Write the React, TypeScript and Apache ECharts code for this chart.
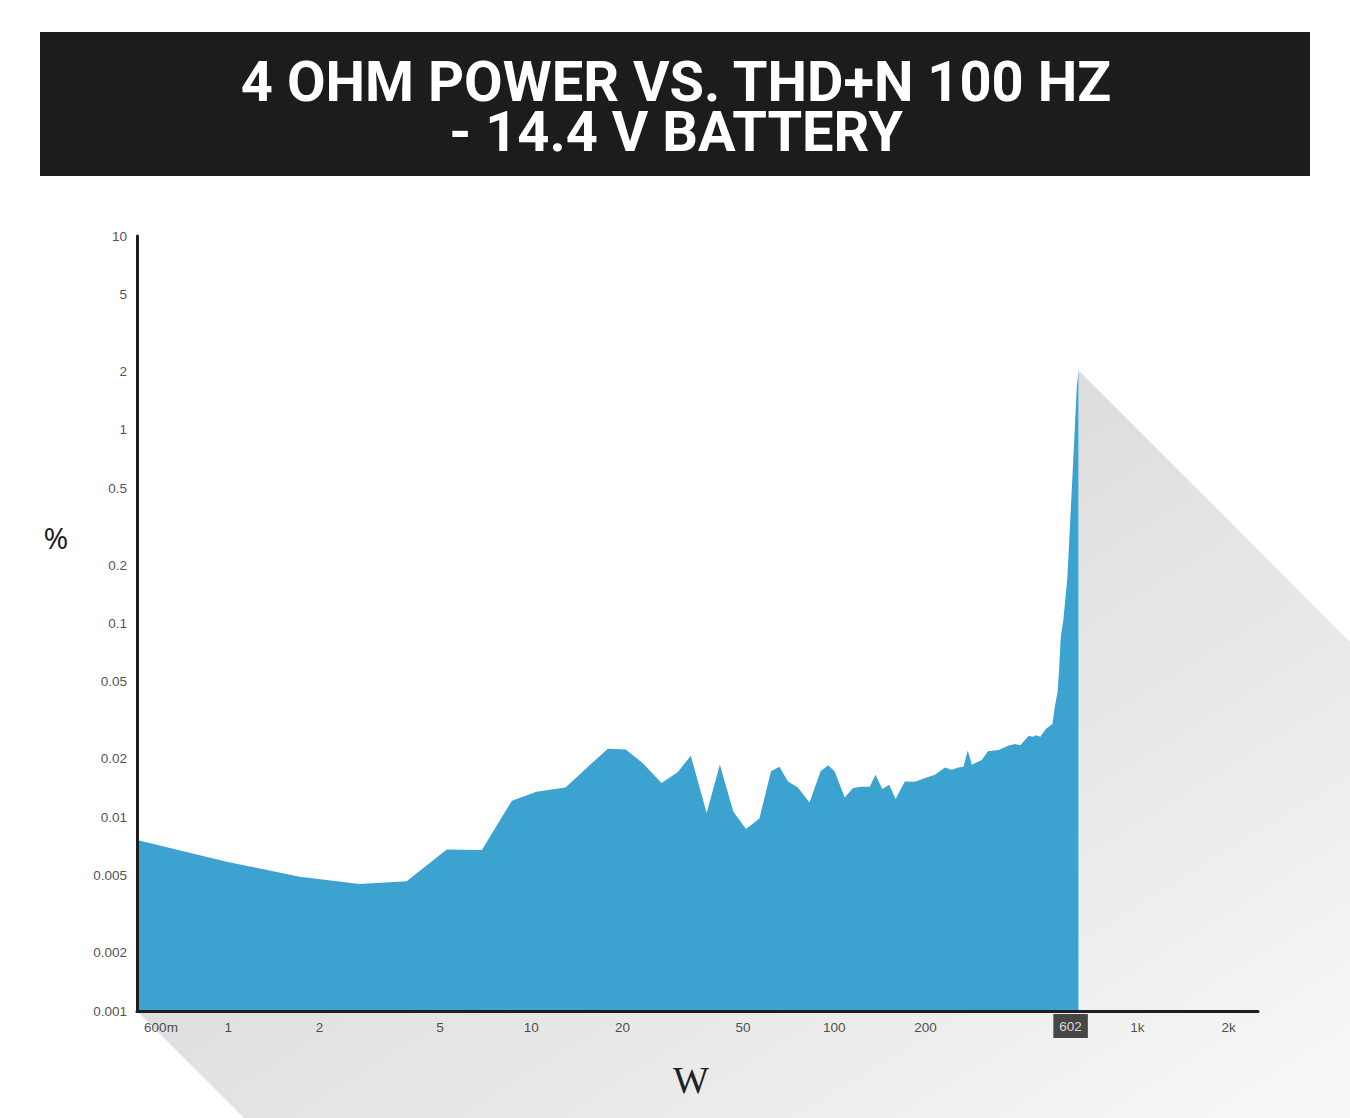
import React, { useEffect, useRef } from "react";
import * as echarts from "echarts";

const titleLines = ["4 OHM POWER VS. THD+N 100 HZ", "- 14.4 V BATTERY"];
const xAxisName = "W";
const yAxisName = "%";

const powerW = [
  0.5, 0.98, 1.72, 2.71, 3.88, 5.26, 6.87, 8.63, 10.4, 12.97, 15.29, 17.9, 20.5,
  23.3, 26.9, 30.4, 33.6, 37.9, 41.9, 46.4, 51.1, 56.6, 61.8, 65.9, 70.3, 75.8,
  82.8, 90.1, 95.3, 100.2, 108.2, 115.3, 122.8, 130.9, 136.7, 143.9, 151.7, 159.2,
  170.9, 184.5, 199.1, 214.8, 231.8, 244, 256.8, 266.8, 275.6, 284.2, 306.7, 321.2,
  348.4, 376, 395.4, 411, 437.8, 451.6, 463.2, 478.4, 498.4, 524.5, 533.4, 545,
  551.5, 558.5, 569.4, 587.6, 602.6, 618, 631, 639,
];
const thdPct = [
  0.00762, 0.00591, 0.00493, 0.00452, 0.00468, 0.00682, 0.00677, 0.01217, 0.01355,
  0.01426, 0.01808, 0.02259, 0.02234, 0.01906, 0.01502, 0.01705, 0.02079, 0.01051,
  0.01868, 0.01072, 0.00869, 0.00986, 0.01725, 0.01824, 0.01531, 0.01426, 0.01192,
  0.01725, 0.01854, 0.01725, 0.01265, 0.01416, 0.01438, 0.01438, 0.01659, 0.014,
  0.01472, 0.01242, 0.01531, 0.01525, 0.01595, 0.01659, 0.01808, 0.01759, 0.01808,
  0.01824, 0.02208, 0.01868, 0.01977, 0.02188, 0.02224, 0.02343, 0.02388, 0.0235,
  0.02637, 0.02606, 0.02649, 0.02606, 0.02857, 0.03033, 0.0369, 0.0442, 0.0571,
  0.0849, 0.1036, 0.1735, 0.3838, 0.848, 1.664, 2.03,
];

const yTickValues = [10, 5, 2, 1, 0.5, 0.2, 0.1, 0.05, 0.02, 0.01, 0.005, 0.002, 0.001];
const yTickLabels = ["10", "5", "2", "1", "0.5", "0.2", "0.1", "0.05", "0.02", "0.01", "0.005", "0.002", "0.001"];
const xTickValues = [0.6, 1, 2, 5, 10, 20, 50, 100, 200, 1000, 2000];
const xTickLabels = ["600m", "1", "2", "5", "10", "20", "50", "100", "200", "1k", "2k"];
const markerPower = [602];
const markerLabel = ["602"];
const xRange = [0.5, 2500];
const yRange = [0.001, 10];

const W = 1350;
const H = 1118;

export default function App() {
  const ref = useRef<HTMLDivElement>(null);

  useEffect(() => {
    if (!ref.current) return;
    const chart = echarts.init(ref.current, null, { renderer: "svg" });
    const labelFont = {
      fontFamily: "'Liberation Sans', Arial, sans-serif",
      fontSize: 13.5,
      color: "#222222",
    };
    const axisCommon = {
      type: "log",
      logBase: 10,
      axisLine: { show: true, onZero: false, lineStyle: { color: "#1e1e1e", width: 3 } },
      axisTick: { show: false },
      axisLabel: { show: false },
      splitLine: { show: false },
      z: 5,
    };

    const staticGraphic: any[] = [
      {
        type: "rect",
        id: "titleBg",
        shape: { x: 40, y: 32, width: 1270, height: 144 },
        style: { fill: "#1c1c1a" },
        z: 10,
      },
      {
        type: "text",
        id: "title",
        x: 676,
        y: 107,
        style: {
          text: titleLines.join("\n"),
          fill: "#ffffff",
          font: "bold 56px Roboto, 'Liberation Sans', sans-serif",
          lineHeight: 50,
          textAlign: "center",
          textVerticalAlign: "middle",
        },
        z: 11,
      },
      {
        type: "text",
        id: "yname",
        x: 56,
        y: 537,
        style: {
          text: yAxisName,
          fill: "#1a1a1a",
          font: "30px 'Open Sans', sans-serif",
          textAlign: "center",
          textVerticalAlign: "middle",
        },
        z: 11,
      },
      {
        type: "text",
        id: "xname",
        x: 691,
        y: 1080,
        style: {
          text: xAxisName,
          fill: "#222222",
          font: "38px 'Liberation Serif', serif",
          textAlign: "center",
          textVerticalAlign: "middle",
        },
        z: 11,
      },
    ];

    chart.setOption({
      animation: false,
      grid: { left: 137, right: 92, top: 236, bottom: 107 },
      xAxis: { ...axisCommon, min: xRange[0], max: xRange[1] },
      yAxis: { ...axisCommon, min: yRange[0], max: yRange[1] },
      series: [
        {
          type: "line",
          data: powerW.map((p, i) => [p, thdPct[i]]),
          symbol: "none",
          lineStyle: { width: 0 },
          areaStyle: { color: "#3ca2d0", opacity: 1, origin: "start" },
          z: 2,
          silent: true,
        },
        {
          type: "scatter",
          data: yTickValues.map((v) => [xRange[0], v]),
          symbolSize: 0,
          clip: false,
          silent: true,
          label: {
            show: true,
            position: "left",
            distance: 10,
            formatter: (p: any) => yTickLabels[p.dataIndex],
            ...labelFont,
          },
        },
        {
          type: "scatter",
          data: xTickValues.map((v) => [v, yRange[0]]),
          symbolSize: 0,
          clip: false,
          silent: true,
          label: {
            show: true,
            position: "bottom",
            distance: 9,
            formatter: (p: any) => xTickLabels[p.dataIndex],
            ...labelFont,
          },
        },
        {
          type: "scatter",
          data: markerPower.map((v) => [v, yRange[0]]),
          symbolSize: 0,
          clip: false,
          silent: true,
          z: 6,
          label: {
            show: true,
            position: "bottom",
            distance: 3,
            formatter: (p: any) => markerLabel[p.dataIndex],
            ...labelFont,
            color: "#ffffff",
            backgroundColor: "#1c1c1a",
            padding: [5, 6, 5, 6],
          },
        },
      ],
      graphic: staticGraphic,
    });

    const last = powerW.length - 1;
    const peak = chart.convertToPixel({ gridIndex: 0 }, [powerW[last], thdPct[last]]) as number[];
    const origin = chart.convertToPixel({ gridIndex: 0 }, [xRange[0], yRange[0]]) as number[];
    const foot = chart.convertToPixel({ gridIndex: 0 }, [powerW[last], yRange[0]]) as number[];
    const pts = [
      peak,
      [W, peak[1] + (W - peak[0])],
      [W, H],
      [origin[0] + (H - origin[1]), H],
      origin,
      foot,
    ];

    chart.setOption({
      graphic: [
        ...staticGraphic,
        {
          type: "polygon",
          id: "shadow",
          shape: { points: pts },
          style: {
            fill: new echarts.graphic.LinearGradient(0, 0, 1, 1, [
              { offset: 0, color: "#d6d6d6" },
              { offset: 0.4, color: "#dddddd" },
              { offset: 1, color: "#f8f8f8" },
            ]),
          },
          z: -10,
          silent: true,
        },
      ],
    });

    return () => chart.dispose();
  }, []);

  return (
    <div
      ref={ref}
      style={{ position: "fixed", left: 0, top: 0, width: W, height: H, background: "#ffffff" }}
    />
  );
}
